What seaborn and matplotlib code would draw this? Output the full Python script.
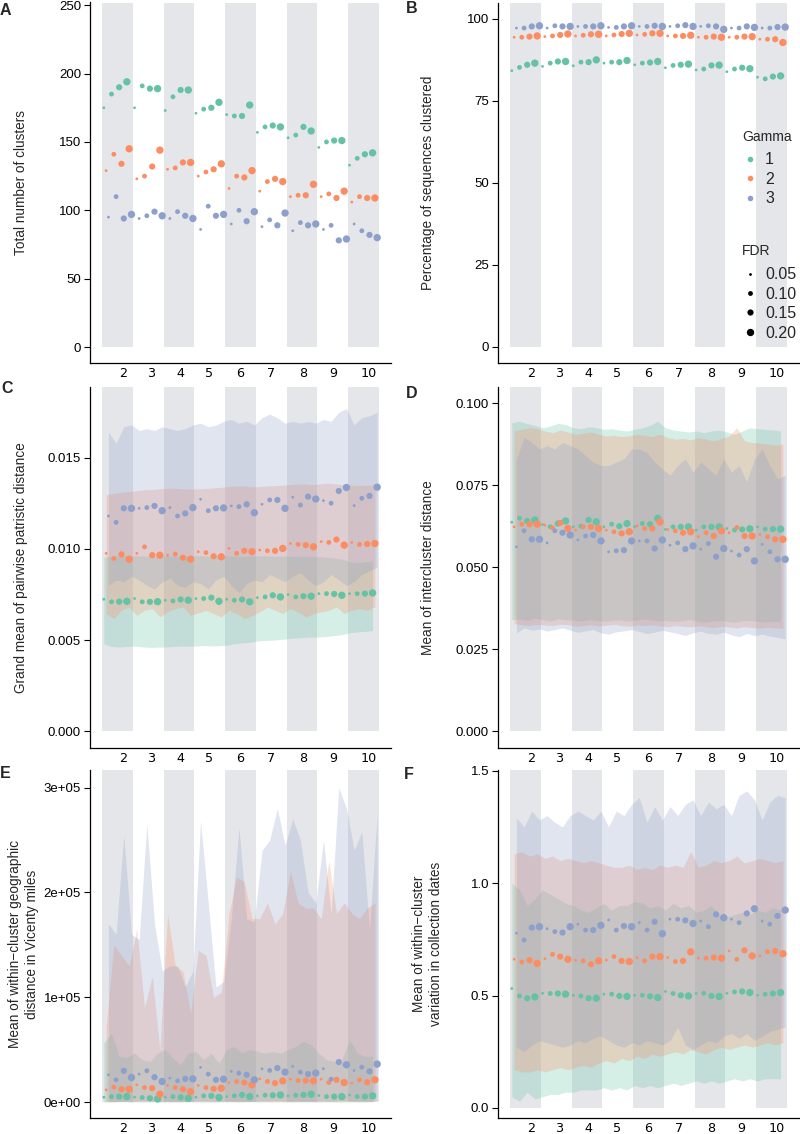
import pandas as pd
import seaborn as sns
import matplotlib.pyplot as plt
from matplotlib.lines import Line2D

# categories
k_values = [2, 3, 4, 5, 6, 7, 8, 9, 10]
fdr_values = [0.05, 0.10, 0.15, 0.20]
gamma_levels = ["1", "2", "3"]

# A: total number of clusters
clusters_g1 = [175, 185, 190, 194, 175, 191, 189, 189, 173, 183, 188, 188, 171, 174, 175, 179, 170, 169, 169, 177,
               157, 161, 162, 161, 153, 155, 161, 158, 146, 150, 151, 151, 133, 138, 141, 142]
clusters_g2 = [129, 141, 134, 145, 123, 125, 132, 144, 130, 131, 135, 135, 125, 128, 130, 134, 116, 125, 124, 129,
               114, 121, 123, 121, 110, 111, 111, 119, 110, 112, 109, 114, 106, 110, 109, 109]
clusters_g3 = [95, 110, 94, 97, 94, 96, 99, 96, 94, 99, 96, 94, 86, 103, 96, 97, 90, 100, 92, 99,
               88, 93, 89, 98, 85, 91, 89, 90, 86, 89, 78, 79, 90, 85, 82, 80]

# B: percentage of sequences clustered
pct_g1 = [84.2, 85.2, 86.0, 86.5, 85.5, 86.5, 87.0, 87.0, 85.7, 86.8, 86.8, 87.5, 86.5, 86.8, 86.8, 87.3, 86.0, 86.5,
          86.7, 87.0, 85.1, 85.8, 86.0, 86.2, 84.4, 84.7, 85.8, 85.9, 83.9, 84.7, 85.1, 84.8, 82.2, 81.7, 82.4, 82.6]
pct_g2 = [94.4, 94.4, 94.6, 94.8, 94.6, 94.8, 95.1, 95.4, 94.8, 95.0, 95.3, 95.3, 94.8, 95.1, 95.4, 95.6, 95.1, 95.3,
          95.6, 95.6, 94.8, 94.8, 94.8, 95.0, 94.4, 94.4, 94.6, 94.4, 94.4, 94.4, 94.6, 94.6, 93.8, 93.8, 93.8, 92.8]
pct_g3 = [97.2, 97.2, 97.7, 97.9, 97.2, 97.9, 97.7, 97.7, 97.7, 97.7, 97.7, 97.9, 97.4, 97.4, 97.7, 97.9, 97.7, 97.7,
          97.9, 97.7, 97.7, 97.9, 98.1, 97.7, 97.7, 97.9, 97.7, 96.8, 97.2, 97.2, 97.7, 97.4, 97.2, 97.2, 97.5, 97.5]

# C: grand mean of pairwise patristic distance (mean, lower, upper)
patr_g1 = [0.00724, 0.00710, 0.00711, 0.00713, 0.00728, 0.00710, 0.00710, 0.00711, 0.00719, 0.00715, 0.00723, 0.00719,
           0.00728, 0.00728, 0.00733, 0.00713, 0.00724, 0.00719, 0.00723, 0.00710, 0.00733, 0.00737, 0.00746, 0.00737,
           0.00750, 0.00737, 0.00741, 0.00741, 0.00755, 0.00755, 0.00753, 0.00746, 0.00755, 0.00755, 0.00755, 0.00759]
patr_g2 = [0.00976, 0.00948, 0.00970, 0.00944, 0.00976, 0.01012, 0.00966, 0.00966, 0.00966, 0.00972, 0.00952, 0.00944,
           0.00985, 0.00980, 0.00960, 0.00957, 0.01003, 0.00976, 0.00990, 0.00985, 0.00994, 0.00990, 0.00990, 0.01003,
           0.01030, 0.01025, 0.01021, 0.01012, 0.01040, 0.01036, 0.01052, 0.01021, 0.01036, 0.01025, 0.01027, 0.01030]
patr_g3 = [0.01181, 0.01146, 0.01223, 0.01223, 0.01223, 0.01227, 0.01236, 0.01210, 0.01227, 0.01181, 0.01195, 0.01227,
           0.01273, 0.01210, 0.01223, 0.01225, 0.01236, 0.01232, 0.01245, 0.01199, 0.01245, 0.01269, 0.01269, 0.01223,
           0.01284, 0.01241, 0.01287, 0.01274, 0.01265, 0.01251, 0.01318, 0.01337, 0.01238, 0.01278, 0.01291, 0.01339]
patr_lo_g1 = [0.00480, 0.00465, 0.00462, 0.00465, 0.00468, 0.00463, 0.00460, 0.00462, 0.00462, 0.00465, 0.00468, 0.00467,
              0.00468, 0.00470, 0.00468, 0.00470, 0.00472, 0.00480, 0.00485, 0.00488, 0.00495, 0.00498, 0.00500, 0.00503,
              0.00508, 0.00512, 0.00515, 0.00517, 0.00517, 0.00520, 0.00525, 0.00530, 0.00540, 0.00545, 0.00548, 0.00553]
patr_hi_g1 = [0.00955, 0.00960, 0.00962, 0.00962, 0.00963, 0.00962, 0.00960, 0.00962, 0.00963, 0.00962, 0.00960, 0.00962,
              0.00963, 0.00962, 0.00960, 0.00962, 0.00963, 0.00962, 0.00960, 0.00962, 0.00963, 0.00962, 0.00960, 0.00960,
              0.00962, 0.00960, 0.00958, 0.00960, 0.00958, 0.00955, 0.00950, 0.00945, 0.00930, 0.00925, 0.00930, 0.00935]
patr_lo_g2 = [0.00646, 0.00618, 0.00664, 0.00682, 0.00636, 0.00664, 0.00673, 0.00627, 0.00655, 0.00673, 0.00682, 0.00636,
              0.00649, 0.00664, 0.00646, 0.00627, 0.00664, 0.00646, 0.00618, 0.00636, 0.00655, 0.00682, 0.00664, 0.00646,
              0.00673, 0.00655, 0.00627, 0.00646, 0.00655, 0.00664, 0.00682, 0.00646, 0.00664, 0.00673, 0.00664, 0.00682]
patr_hi_g2 = [0.01297, 0.01305, 0.01310, 0.01315, 0.01320, 0.01324, 0.01326, 0.01330, 0.01333, 0.01333, 0.01330, 0.01328,
              0.01330, 0.01332, 0.01335, 0.01338, 0.01342, 0.01346, 0.01344, 0.01340, 0.01342, 0.01345, 0.01348, 0.01350,
              0.01353, 0.01357, 0.01355, 0.01352, 0.01358, 0.01360, 0.01357, 0.01352, 0.01350, 0.01348, 0.01350, 0.01352]
patr_lo_g3 = [0.00800, 0.00830, 0.00820, 0.00850, 0.00830, 0.00800, 0.00780, 0.00820, 0.00840, 0.00800, 0.00790, 0.00820,
              0.00810, 0.00780, 0.00830, 0.00850, 0.00800, 0.00760, 0.00810, 0.00830, 0.00820, 0.00860, 0.00840, 0.00820,
              0.00850, 0.00870, 0.00830, 0.00800, 0.00820, 0.00860, 0.00830, 0.00800, 0.00820, 0.00860, 0.00880, 0.00900]
patr_hi_g3 = [0.0164, 0.0158, 0.0167, 0.0168, 0.0165, 0.0166, 0.0165, 0.0167, 0.0166, 0.0165, 0.0166, 0.0168,
              0.0169, 0.0167, 0.0168, 0.0170, 0.0171, 0.0169, 0.0170, 0.0168, 0.0172, 0.0174, 0.0172, 0.0169,
              0.0170, 0.0169, 0.0170, 0.0169, 0.0171, 0.0170, 0.0175, 0.0177, 0.0168, 0.0172, 0.0173, 0.0175]

# D: mean of intercluster distance
inter_g1 = [0.0637, 0.0649, 0.0641, 0.0644, 0.0630, 0.0623, 0.0633, 0.0641, 0.0623, 0.0625, 0.0644, 0.0638,
            0.0623, 0.0631, 0.0625, 0.0633, 0.0623, 0.0633, 0.0631, 0.0649, 0.0615, 0.0623, 0.0623, 0.0623,
            0.0613, 0.0623, 0.0623, 0.0623, 0.0618, 0.0613, 0.0615, 0.0617, 0.0623, 0.0616, 0.0616, 0.0616]
inter_g2 = [0.0623, 0.0631, 0.0631, 0.0631, 0.0628, 0.0620, 0.0635, 0.0618, 0.0613, 0.0623, 0.0623, 0.0618,
            0.0613, 0.0608, 0.0603, 0.0608, 0.0626, 0.0618, 0.0618, 0.0638, 0.0615, 0.0611, 0.0605, 0.0608,
            0.0593, 0.0605, 0.0595, 0.0611, 0.0605, 0.0621, 0.0595, 0.0595, 0.0600, 0.0593, 0.0585, 0.0585]
inter_g3 = [0.0562, 0.0611, 0.0585, 0.0585, 0.0574, 0.0611, 0.0605, 0.0598, 0.0583, 0.0595, 0.0598, 0.0580,
            0.0547, 0.0550, 0.0552, 0.0580, 0.0580, 0.0580, 0.0557, 0.0583, 0.0567, 0.0574, 0.0555, 0.0565,
            0.0555, 0.0572, 0.0532, 0.0557, 0.0549, 0.0537, 0.0555, 0.0519, 0.0570, 0.0547, 0.0524, 0.0524]
inter_lo_g1 = [0.0340, 0.0342, 0.0338, 0.0345, 0.0340, 0.0336, 0.0342, 0.0340, 0.0338, 0.0335, 0.0340, 0.0338,
               0.0335, 0.0338, 0.0340, 0.0336, 0.0338, 0.0342, 0.0340, 0.0336, 0.0338, 0.0335, 0.0337, 0.0340,
               0.0336, 0.0333, 0.0336, 0.0338, 0.0335, 0.0332, 0.0336, 0.0338, 0.0335, 0.0333, 0.0335, 0.0334]
inter_hi_g1 = [0.0940, 0.0945, 0.0938, 0.0932, 0.0925, 0.0930, 0.0938, 0.0935, 0.0925, 0.0922, 0.0928, 0.0925,
               0.0920, 0.0922, 0.0918, 0.0915, 0.0920, 0.0925, 0.0932, 0.0945, 0.0925, 0.0918, 0.0915, 0.0912,
               0.0915, 0.0910, 0.0915, 0.0918, 0.0912, 0.0905, 0.0915, 0.0925, 0.0922, 0.0920, 0.0918, 0.0915]
inter_lo_g2 = [0.0328, 0.0325, 0.0322, 0.0326, 0.0324, 0.0322, 0.0326, 0.0325, 0.0320, 0.0322, 0.0325, 0.0321,
               0.0323, 0.0326, 0.0322, 0.0320, 0.0324, 0.0322, 0.0325, 0.0321, 0.0318, 0.0322, 0.0320, 0.0318,
               0.0322, 0.0319, 0.0316, 0.0320, 0.0318, 0.0315, 0.0319, 0.0316, 0.0314, 0.0317, 0.0315, 0.0313]
inter_hi_g2 = [0.0915, 0.0920, 0.0925, 0.0922, 0.0915, 0.0910, 0.0918, 0.0912, 0.0905, 0.0908, 0.0912, 0.0905,
               0.0900, 0.0902, 0.0898, 0.0900, 0.0905, 0.0902, 0.0898, 0.0905, 0.0895, 0.0890, 0.0892, 0.0888,
               0.0895, 0.0890, 0.0885, 0.0892, 0.0900, 0.0925, 0.0885, 0.0880, 0.0878, 0.0875, 0.0872, 0.0875]
inter_lo_g3 = [0.0300, 0.0315, 0.0308, 0.0312, 0.0305, 0.0310, 0.0315, 0.0308, 0.0302, 0.0306, 0.0310, 0.0300,
               0.0296, 0.0303, 0.0306, 0.0310, 0.0304, 0.0298, 0.0302, 0.0308, 0.0303, 0.0298, 0.0292, 0.0300,
               0.0305, 0.0298, 0.0296, 0.0302, 0.0294, 0.0288, 0.0298, 0.0292, 0.0296, 0.0290, 0.0286, 0.0282]
inter_hi_g3 = [0.0830, 0.0895, 0.0880, 0.0860, 0.0870, 0.0860, 0.0880, 0.0870, 0.0860, 0.0840, 0.0820, 0.0810,
               0.0810, 0.0820, 0.0830, 0.0860, 0.0860, 0.0850, 0.0820, 0.0800, 0.0780, 0.0810, 0.0830, 0.0790,
               0.0820, 0.0800, 0.0780, 0.0830, 0.0790, 0.0810, 0.0760, 0.0830, 0.0860, 0.0810, 0.0770, 0.0780]

# E: within-cluster geographic distance
geo_g1 = [4800, 5400, 5400, 5400, 4800, 4500, 3800, 3200, 4800, 5400, 4800, 3800, 4800, 6100, 6100, 4500, 5400, 6100,
          7000, 5400, 6100, 6700, 6700, 7000, 6100, 6700, 7000, 7700, 6400, 5400, 5400, 5400, 7000, 5400, 5400, 6100]
geo_g2 = [11800, 14400, 12400, 12400, 16600, 14000, 13400, 7700, 16000, 14000, 12400, 10200, 16000, 14000, 12800, 13400,
          18800, 19800, 18800, 16600, 22300, 19800, 18200, 20400, 22000, 20700, 20700, 20400, 22000, 18800, 21400, 18800,
          18200, 21400, 19100, 21400]
geo_g3 = [26200, 21400, 30000, 23600, 26800, 30000, 23900, 19800, 23000, 20400, 22300, 22300, 33200, 26800, 21400, 22000,
          29400, 27800, 26200, 21400, 31900, 30300, 32600, 28700, 34100, 28700, 26800, 27800, 31900, 22000, 38300, 35700,
          30300, 33500, 29400, 36400]
geo_lo_g1 = [300, 200, 400, 300, 200, 300, 400, 200, 300, 200, 300, 400, 300, 200, 300, 200, 400, 300,
             200, 300, 400, 300, 200, 300, 300, 200, 400, 300, 200, 300, 300, 200, 400, 300, 200, 300]
geo_hi_g1 = [56500, 66100, 43700, 42800, 46900, 40500, 38900, 46900, 50100, 42100, 35700, 46900, 48500, 40500, 46900,
             37300, 50100, 53300, 46900, 50100, 48500, 46900, 48500, 46900, 50100, 53300, 58100, 54900, 46900, 40500,
             38900, 40500, 59700, 46900, 43700, 43700]
geo_lo_g2 = [600, 500, 800, 600, 700, 500, 600, 400, 700, 600, 500, 600, 700, 600, 500, 700, 800, 600,
             700, 800, 600, 700, 800, 700, 600, 800, 700, 600, 800, 700, 600, 700, 800, 600, 700, 800]
geo_hi_g2 = [72000, 150000, 140000, 130000, 165000, 90000, 120000, 50000, 180000, 130000, 125000, 85000, 145000, 140000,
             100000, 105000, 180000, 215000, 210000, 175000, 175000, 190000, 170000, 180000, 220000, 190000, 185000,
             185000, 175000, 230000, 180000, 190000, 180000, 175000, 185000, 190000]
geo_lo_g3 = [1200, 900, 1500, 1000, 1300, 1400, 1000, 800, 1100, 900, 1000, 1200, 1500, 1100, 900, 1000, 1300, 1200,
             1100, 900, 1400, 1300, 1500, 1200, 1500, 1200, 1100, 1200, 1400, 900, 1700, 1600, 1300, 1500, 1200, 1600]
geo_hi_g3 = [170000, 160000, 255000, 160000, 155000, 265000, 170000, 125000, 130000, 130000, 110000, 125000, 268000,
             190000, 110000, 115000, 175000, 262000, 175000, 172000, 240000, 250000, 280000, 245000, 270000, 250000,
             200000, 190000, 250000, 180000, 300000, 280000, 240000, 258000, 165000, 275000]

# F: within-cluster variation in collection dates
dates_g1 = [0.531, 0.498, 0.488, 0.494, 0.510, 0.509, 0.509, 0.506, 0.501, 0.498, 0.488, 0.488, 0.506, 0.506, 0.498, 0.496,
            0.501, 0.501, 0.496, 0.491, 0.518, 0.509, 0.501, 0.498, 0.509, 0.510, 0.498, 0.496, 0.510, 0.516, 0.518, 0.513,
            0.501, 0.506, 0.509, 0.513]
dates_g2 = [0.661, 0.649, 0.657, 0.643, 0.664, 0.683, 0.673, 0.661, 0.657, 0.654, 0.639, 0.654, 0.658, 0.673, 0.654, 0.651,
            0.669, 0.654, 0.673, 0.673, 0.669, 0.651, 0.654, 0.694, 0.666, 0.666, 0.669, 0.666, 0.698, 0.661, 0.701, 0.676,
            0.676, 0.695, 0.698, 0.686]
dates_g3 = [0.777, 0.747, 0.802, 0.806, 0.797, 0.784, 0.780, 0.806, 0.817, 0.791, 0.791, 0.812, 0.836, 0.791, 0.809, 0.806,
            0.824, 0.791, 0.828, 0.775, 0.839, 0.839, 0.834, 0.820, 0.831, 0.806, 0.861, 0.846, 0.839, 0.824, 0.865, 0.886,
            0.831, 0.817, 0.854, 0.880]
dates_lo_g1 = [0.05, 0.03, 0.07, 0.04, 0.05, 0.06, 0.06, 0.07, 0.07, 0.08, 0.08, 0.08, 0.09, 0.08, 0.09, 0.08, 0.10, 0.09,
               0.10, 0.09, 0.10, 0.11, 0.10, 0.11, 0.12, 0.11, 0.12, 0.11, 0.12, 0.13, 0.12, 0.13, 0.12, 0.13, 0.13, 0.13]
dates_hi_g1 = [1.00, 0.97, 0.90, 0.93, 0.97, 0.95, 0.93, 0.91, 0.90, 0.88, 0.87, 0.89, 0.91, 0.88, 0.90, 0.90, 0.92, 0.91,
               0.89, 0.90, 0.88, 0.91, 0.89, 0.90, 0.87, 0.88, 0.90, 0.86, 0.85, 0.86, 0.87, 0.86, 0.88, 0.87, 0.89, 0.88]
dates_lo_g2 = [0.17, 0.16, 0.16, 0.17, 0.16, 0.17, 0.18, 0.17, 0.18, 0.19, 0.18, 0.20, 0.21, 0.20, 0.22, 0.21, 0.23, 0.22,
               0.24, 0.23, 0.24, 0.25, 0.24, 0.26, 0.25, 0.24, 0.26, 0.27, 0.26, 0.27, 0.28, 0.27, 0.28, 0.29, 0.28, 0.29]
dates_hi_g2 = [1.13, 1.14, 1.12, 1.13, 1.11, 1.12, 1.10, 1.11, 1.10, 1.09, 1.10, 1.09, 1.08, 1.07, 1.07, 1.08, 1.06, 1.07,
               1.06, 1.08, 1.07, 1.08, 1.07, 1.14, 1.07, 1.08, 1.10, 1.09, 1.10, 1.12, 1.09, 1.10, 1.11, 1.10, 1.09, 1.10]
dates_lo_g3 = [0.27, 0.25, 0.28, 0.30, 0.29, 0.28, 0.27, 0.28, 0.30, 0.29, 0.31, 0.32, 0.30, 0.28, 0.27, 0.29, 0.28, 0.30,
               0.29, 0.28, 0.30, 0.36, 0.28, 0.26, 0.28, 0.30, 0.29, 0.32, 0.33, 0.31, 0.33, 0.30, 0.32, 0.34, 0.35, 0.36]
dates_hi_g3 = [1.29, 1.25, 1.32, 1.28, 1.30, 1.27, 1.25, 1.30, 1.32, 1.30, 1.28, 1.32, 1.25, 1.32, 1.30, 1.35, 1.38, 1.27,
               1.34, 1.28, 1.34, 1.30, 1.35, 1.37, 1.30, 1.36, 1.33, 1.35, 1.30, 1.39, 1.41, 1.37, 1.28, 1.36, 1.39, 1.38]

sns.set_theme(style="white")
plt.rcParams["font.family"] = ["Liberation Sans", "DejaVu Sans"]

palette = dict(zip(gamma_levels, sns.color_palette("Set2", 3)))
dodge = {"1": -0.3, "2": 0.0, "3": 0.3}
band_color = "#E5E6EA"


def long_frame(means, lows=None, highs=None):
    rows = []
    for gi, g in enumerate(gamma_levels):
        for i, v in enumerate(means[gi]):
            row = {"Gamma": g, "K": k_values[i // 4], "FDR": fdr_values[i % 4], "pos": i + dodge[g], "value": v}
            if lows is not None:
                row["lo"] = lows[gi][i]
                row["hi"] = highs[gi][i]
            rows.append(row)
    return pd.DataFrame(rows)


panels = [
    ("A", "Total number of clusters", long_frame([clusters_g1, clusters_g2, clusters_g3]),
     (-11.7, 252), [0, 50, 100, 150, 200, 250], ["0", "50", "100", "150", "200", "250"]),
    ("B", "Percentage of sequences clustered", long_frame([pct_g1, pct_g2, pct_g3]),
     (-5, 105), [0, 25, 50, 75, 100], ["0", "25", "50", "75", "100"]),
    ("C", "Grand mean of pairwise patristic distance",
     long_frame([patr_g1, patr_g2, patr_g3], [patr_lo_g1, patr_lo_g2, patr_lo_g3], [patr_hi_g1, patr_hi_g2, patr_hi_g3]),
     (-0.0009, 0.0189), [0, 0.005, 0.010, 0.015], ["0.000", "0.005", "0.010", "0.015"]),
    ("D", "Mean of intercluster distance",
     long_frame([inter_g1, inter_g2, inter_g3], [inter_lo_g1, inter_lo_g2, inter_lo_g3],
                [inter_hi_g1, inter_hi_g2, inter_hi_g3]),
     (-0.005, 0.105), [0, 0.025, 0.05, 0.075, 0.1], ["0.000", "0.025", "0.050", "0.075", "0.100"]),
    ("E", "Mean of within\u2212cluster geographic\ndistance in Vicenty miles",
     long_frame([geo_g1, geo_g2, geo_g3], [geo_lo_g1, geo_lo_g2, geo_lo_g3], [geo_hi_g1, geo_hi_g2, geo_hi_g3]),
     (-15300, 317200), [0, 1e5, 2e5, 3e5], ["0e+00", "1e+05", "2e+05", "3e+05"]),
    ("F", "Mean of within\u2212cluster\nvariation in collection dates",
     long_frame([dates_g1, dates_g2, dates_g3], [dates_lo_g1, dates_lo_g2, dates_lo_g3],
                [dates_hi_g1, dates_hi_g2, dates_hi_g3]),
     (-0.046, 1.505), [0, 0.5, 1.0, 1.5], ["0.0", "0.5", "1.0", "1.5"]),
]

# axes boxes in pixels
W, H = 800, 1134
col_x = [(90, 391), (498, 799)]
row_y = [(2.5, 363), (386.7, 747.7), (769.5, 1118.3)]
label_x = [-0.229, -0.233, -0.229, -0.233, -0.221, -0.234]
letter_xy = [(0, 3), (406, 1), (1, 381), (406, 386), (0, 766), (404, 767)]
tick_pos = [2.25, 5.82, 9.64, 13.45, 17.45, 21.5, 25.7, 29.6, 34.15]

fig = plt.figure(figsize=(W / 100, H / 100), dpi=100)

for idx, (letter, ylabel, df, ylim, yticks, yticklabels) in enumerate(panels):
    r, c = divmod(idx, 2)
    x0, x1 = col_x[c]
    y0, y1 = row_y[r]
    ax = fig.add_axes([x0 / W, 1 - y1 / H, (x1 - x0) / W, (y1 - y0) / H])
    ax.set_xlim(-2.1, 37.1)
    ax.set_ylim(*ylim)

    # alternating shaded columns for even K
    zero_frac = (0 - ylim[0]) / (ylim[1] - ylim[0])
    for j, k in enumerate(k_values):
        if k % 2 == 0:
            ax.axvspan(4 * j - 0.5, 4 * j + 3.5, ymin=zero_frac, ymax=1, color=band_color, lw=0, zorder=0)

    if "lo" in df.columns:
        for g in gamma_levels:
            sub = df[df["Gamma"] == g]
            ax.fill_between(sub["pos"], sub["lo"], sub["hi"], color=palette[g], alpha=0.27, lw=0, zorder=1)

    sns.scatterplot(data=df, x="pos", y="value", hue="Gamma", hue_order=gamma_levels, palette=palette,
                    size="FDR", sizes=(4, 28), size_norm=(0.05, 0.20), linewidth=0, legend=False,
                    ax=ax, zorder=3)

    ax.set_xticks(tick_pos, labels=[str(k) for k in k_values])
    ax.set_yticks(yticks, labels=yticklabels)
    ax.tick_params(axis="x", length=0, pad=3, labelsize=9.2, labelcolor="black")
    for t in ax.get_xticklabels():
        t.set_fontfamily("DejaVu Sans")
    ax.tick_params(axis="y", length=4.5, width=0.8, pad=2, labelsize=9.5, color="black", labelcolor="black", left=True)
    ax.set_xlabel("")
    ax.set_ylabel(ylabel, fontsize=9.8, va="center", ha="center", linespacing=1.2)
    ax.yaxis.set_label_coords(label_x[idx], 0.5)
    for s in ["top", "right"]:
        ax.spines[s].set_visible(False)
    for s in ["left", "bottom"]:
        ax.spines[s].set_color("black")
        ax.spines[s].set_linewidth(0.9)

    fig.text(letter_xy[idx][0] / W, 1 - letter_xy[idx][1] / H, letter, fontsize=11.5, fontweight="bold",
             ha="left", va="top")

    if letter == "B":
        leg_opts = dict(loc="upper left", frameon=False, fontsize=11.5, borderpad=0, borderaxespad=0,
                        handlelength=1.0, handletextpad=0.45, labelspacing=0.28)
        gamma_handles = [Line2D([], [], ls="", marker="o", ms=4, mfc=palette[g], mec="none") for g in gamma_levels]
        leg1 = ax.legend(gamma_handles, gamma_levels, bbox_to_anchor=(0.81, 0.584), **leg_opts)
        ax.add_artist(leg1)
        fdr_handles = [Line2D([], [], ls="", marker="o", ms=s ** 0.5, mfc="black", mec="none") for s in [4, 12, 20, 28]]
        ax.legend(fdr_handles, ["0.05", "0.10", "0.15", "0.20"], bbox_to_anchor=(0.81, 0.266), **leg_opts)
        ax.text(0.811, 0.627, "Gamma", transform=ax.transAxes, fontsize=10, ha="left", va="center")
        ax.text(0.811, 0.311, "FDR", transform=ax.transAxes, fontsize=10, ha="left", va="center")

fig.savefig("out.png", dpi=100)
